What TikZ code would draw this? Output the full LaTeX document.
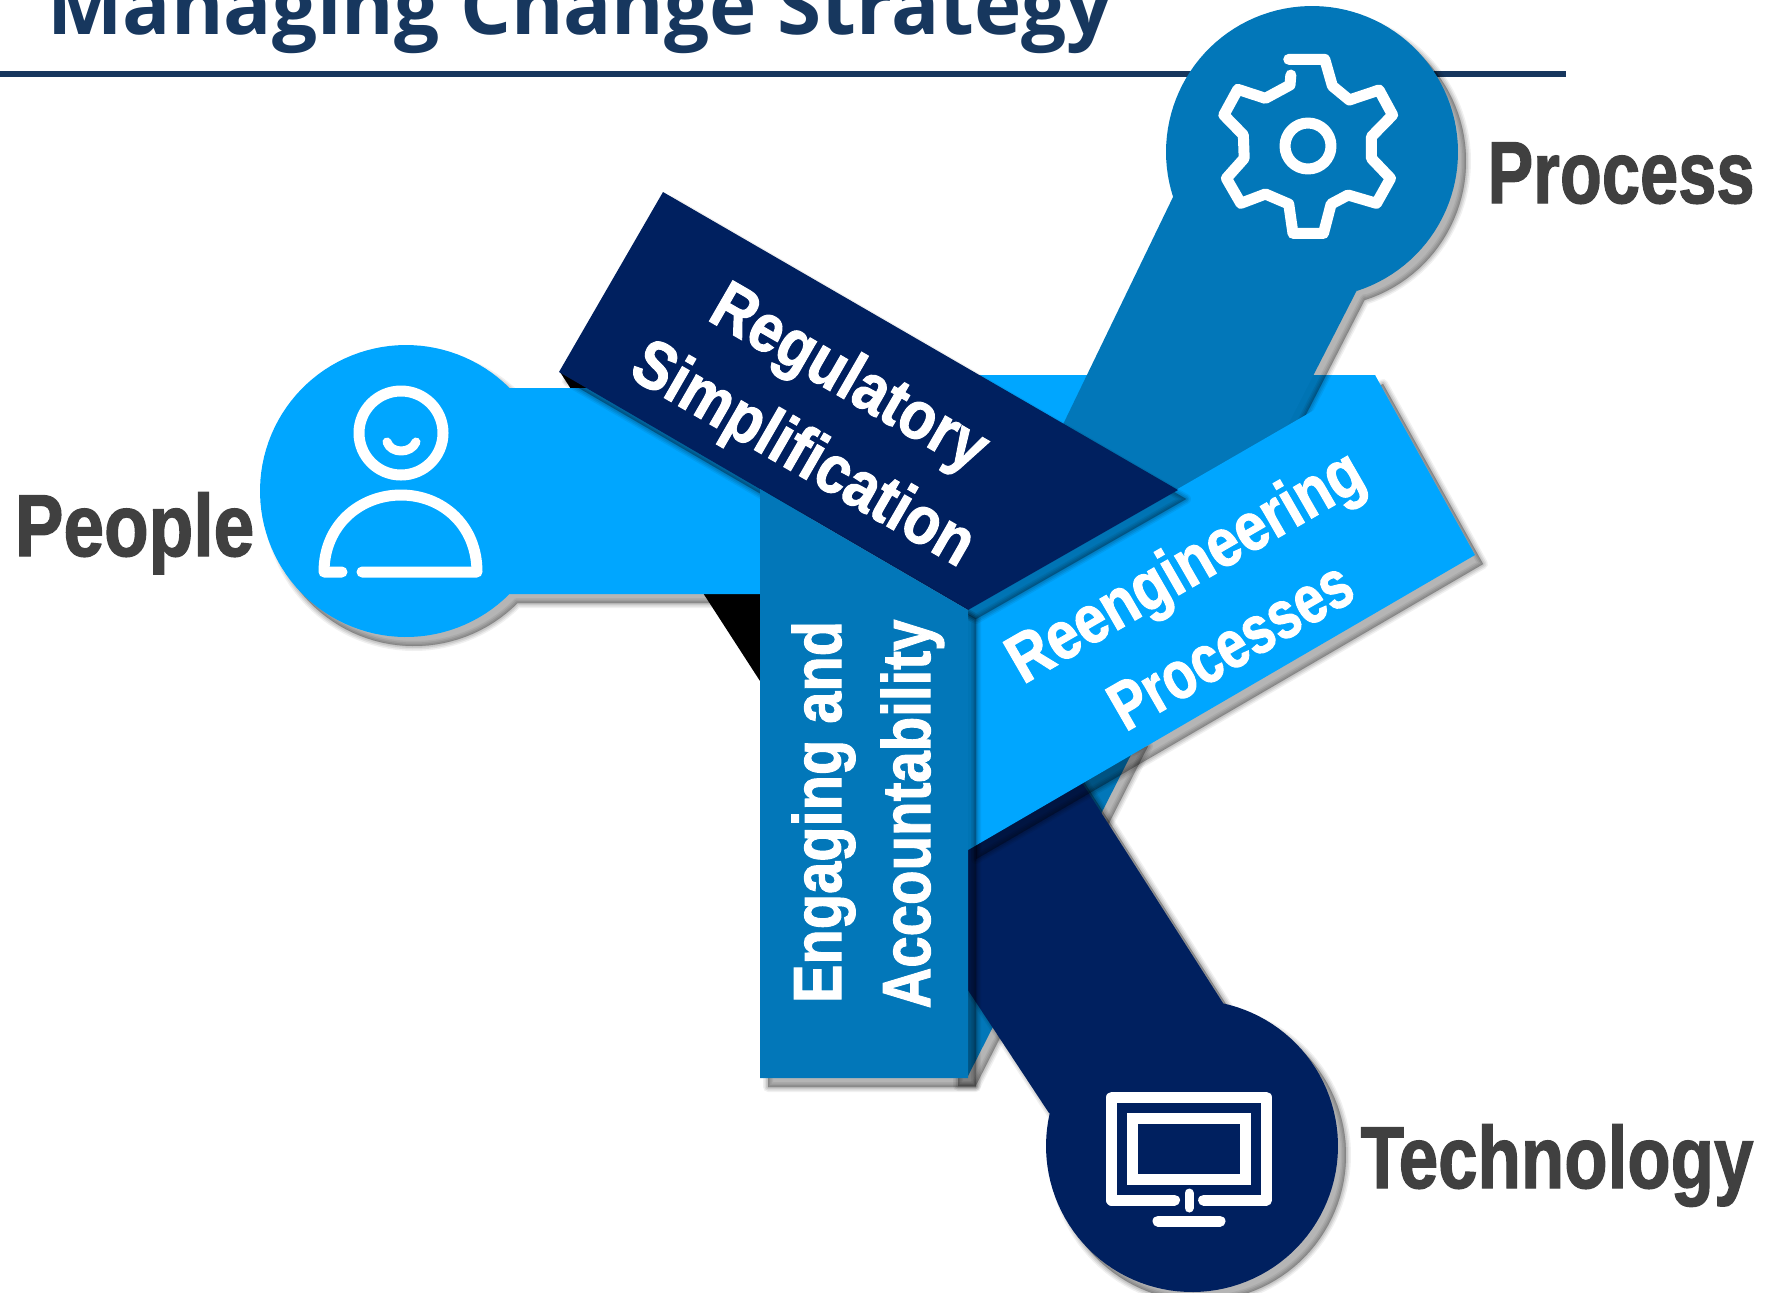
\documentclass[tikz,border=0pt]{standalone}
\usepackage{fontspec}
\usepackage{graphicx}
\setmainfont{Liberation Sans}[BoldFeatures={FakeBold=1.6}]
\newfontfamily\titlefont{Open Sans}
\definecolor{procblue}{HTML}{0277B9}
\definecolor{lightblue}{HTML}{00A6FF}
\definecolor{navyband}{HTML}{00205F}
\definecolor{labelgrey}{HTML}{404040}
\definecolor{titleblue}{HTML}{17375E}
\newcommand\shaped[2]{%
  \path[fill=black,draw=black,line join=round,opacity=.06,line width=5pt,shift={(8,9)}] #2;
  \path[fill=black,draw=black,line join=round,opacity=.08,line width=3.5pt,shift={(8,9)}] #2;
  \path[fill=black,draw=black,line join=round,opacity=.09,line width=2pt,shift={(8,9)}] #2;
  \path[fill=black,draw=black,line join=round,opacity=.10,line width=.5pt,shift={(8,9)}] #2;
  \path[fill=#1] #2;}
\newcommand\bandtext[2]{\scalebox{#1}[1]{\bfseries #2}}
\tikzset{
  icon/.style={draw=white,line width=5.5pt,line cap=round,line join=round,fill=none},
  outerlabel/.style={text=labelgrey,anchor=base,inner sep=0pt,font=\fontsize{44}{48}\selectfont},
  bandlabel/.style={text=white,anchor=base,inner sep=0pt,font=\fontsize{34}{38}\selectfont}
}
\begin{document}
\begin{tikzpicture}[x=.5pt,y=-.5pt]
\useasboundingbox (0,0) rectangle (1765,1292);
\clip (0,0) rectangle (1765,1292);
% title and rule
\node[anchor=base west,inner sep=0pt,text=titleblue,font=\titlefont\bfseries\fontsize{40}{44}\selectfont] (title) at (47,34) {Managing Change Strategy};
\coordinate (ruleL) at (0,73.5);
\coordinate (ruleR) at (1566,73.5);
\draw[titleblue,line width=3pt] (ruleL) -- (ruleR);
% process bar lower end
\shaped{procblue}{(1140,737) -- (967.5,1077) -- (950,1077) -- (950,800) -- cycle}
% black side face
\fill[black] (560,372) -- (760,681) -- (790,681) -- (790,450) -- cycle;
% technology arm
\shaped{navyband}{(1040,717) -- (1223,1003) -- plot[domain=282:553,samples=90] ({1192+146*cos(\x)},{1146+146*sin(\x)}) -- (1049,1113) -- (900,887) -- cycle}
% people arm
\shaped{lightblue}{(509,594) -- plot[domain=45:315,samples=90] ({406+146*cos(\x)},{491+146*sin(\x)}) -- (509,388) -- (800,388) -- (800,594) -- cycle}
% light wedge behind process arm
\fill[lightblue] (960,375) -- (1375,375) -- (1375,380) -- (968,620) -- cycle;
% process arm
\shaped{procblue}{(1173,197) -- plot[domain=162:432,samples=90] ({1312+146*cos(\x)},{152+146*sin(\x)}) -- (1357,290) -- (1270,460) -- (1150,560) -- (1040,472) -- cycle}
% reengineering band
\shaped{lightblue}{(968,610) -- (1375,375) -- (1475,555) -- (968,850) -- cycle}
% regulatory band
\shaped{navyband}{(663,192) -- (1178,490) -- (968,610) -- (559,372) -- cycle}
% engaging band
\shaped{procblue}{(760,489) -- (968,610) -- (968,1078) -- (760,1078) -- cycle}
% gear icon
\begin{scope}[shift={(1100,0)},x=.21204pt,y=-.16667pt]
\draw[icon] (445,178) -- (530,178) -- (548,258) -- (588,300) -- (658,270) -- (690,345) -- (640,410) -- (640,475) -- (685,535) -- (652,610) -- (585,585) -- (545,612) -- (527,700) -- (455,700) -- (445,612) -- (390,582) -- (332,610) -- (298,535) -- (340,475) -- (338,405) -- (292,345) -- (325,268) -- (390,295) -- (448,255) -- (450,225);
\end{scope}
\draw[icon] (1308,146) circle[radius=23];
% person icon
\draw[icon] (401,433) circle[radius=42];
\draw[icon,line width=4.5pt] (387,442) .. controls (391,454) and (411,454) .. (416,442);
\draw[icon] (342,572) -- (324,572) .. controls (324,525) and (360,495) .. (401,495) .. controls (442,495) and (477,525) .. (477,572) -- (362,572);
% monitor icon
\draw[icon] (1174.5,1200) -- (1111.6,1200) -- (1111.6,1097.3) -- (1266.5,1097.3) -- (1266.5,1200) -- (1203.6,1200);
\draw[icon,line join=miter] (1132.4,1118) rectangle (1245.7,1179.3);
\draw[icon,line width=4.5pt] (1189,1193) -- (1189,1208);
\draw[icon] (1158,1221) -- (1220,1221);
% outer labels
\node[outerlabel] (process) at (1621,203) {\bandtext{.78}{Process}};
\node[outerlabel] (people) at (134.5,556) {\bandtext{.83}{People}};
\node[outerlabel] (technology) at (1557,1188) {\bandtext{.806}{Technology}};
% band labels
\node[bandlabel,rotate=-30] (regA) at (839,396) {\bandtext{.865}{Regulatory}};
\node[bandlabel,rotate=-30] (regB) at (793,472) {\bandtext{.86}{Simplification}};
\node[bandlabel,rotate=90] (engA) at (841,812) {\bandtext{.85}{Engaging and}};
\node[bandlabel,rotate=90] (engB) at (930,814) {\bandtext{.83}{Accountability}};
\node[bandlabel,rotate=30] (reA) at (1196,585) {\bandtext{.845}{Reengineering}};
\node[bandlabel,rotate=30] (reB) at (1242,665) {\bandtext{.79}{Processes}};
\end{tikzpicture}
\end{document}
